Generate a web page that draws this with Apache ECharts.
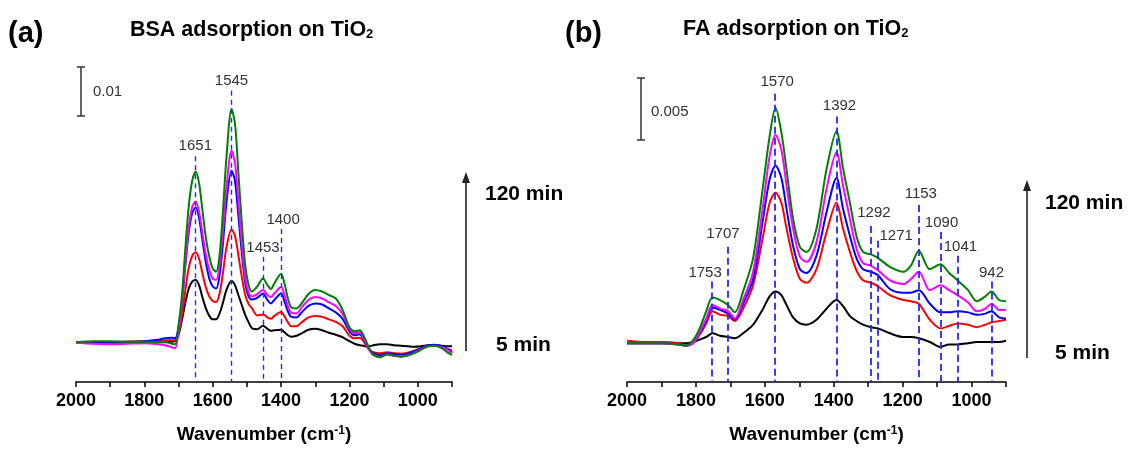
<!DOCTYPE html>
<html>
<head>
<meta charset="utf-8">
<script src="https://cdn.jsdelivr.net/npm/echarts@6.0.0/dist/echarts.min.js"></script>
<style>
  html, body { margin: 0; padding: 0; background: #fff; }
  #chart { width: 1128px; height: 449px; }
</style>
</head>
<body>
<div id="chart"></div>
<script>
// ---- Panel (a): BSA on TiO2, absorbance vs wavenumber ----
const WN_A = [2000, 1950, 1900, 1850, 1800, 1760, 1740, 1720, 1710, 1700, 1690, 1680, 1670, 1660, 1650,
  1640, 1630, 1620, 1610, 1600, 1590, 1580, 1570, 1560, 1545, 1535, 1525, 1515, 1505, 1495, 1485,
  1470, 1453, 1440, 1430, 1420, 1400, 1390, 1380, 1370, 1355, 1340, 1320, 1300, 1280, 1260, 1240,
  1220, 1200, 1185, 1170, 1160, 1150, 1140, 1130, 1110, 1090, 1070, 1050, 1030, 1010, 990, 970,
  950, 930, 910, 900];
const BLACK_A = [0, 0, 0, 0.0001, 0.0001, 0, 0, 0.0001, 0.0003, 0.0015, 0.0045, 0.0080, 0.0108, 0.0122, 0.0125,
  0.0115, 0.0090, 0.0068, 0.0053, 0.0046, 0.0046, 0.0058, 0.0080, 0.0105, 0.0123, 0.0115, 0.0095, 0.0075, 0.0055, 0.0040, 0.0028,
  0.0026, 0.0033, 0.0027, 0.0023, 0.0024, 0.0025, 0.0020, 0.0014, 0.0011, 0.0013, 0.0018, 0.0025, 0.0027, 0.0024, 0.0019, 0.0015,
  0.0010, 0.0002, -0.0003, -0.0006, -0.0007, -0.0008, -0.0008, -0.0006, -0.0004, -0.0004, -0.0006, -0.0007, -0.0008, -0.0009, -0.0008, -0.0006,
  -0.0006, -0.0007, -0.0008, -0.0008];
const RED_A = [0, -0.0001, 0, 0.0001, 0.0002, 0.0003, 0.0004, 0.0004, 0.0004, 0.0020, 0.0055, 0.0105, 0.0150, 0.0174, 0.0181,
  0.0168, 0.0138, 0.0110, 0.0092, 0.0083, 0.0081, 0.0098, 0.0140, 0.0190, 0.0227, 0.0214, 0.0175, 0.0132, 0.0095, 0.0077, 0.0068,
  0.0054, 0.0056, 0.0050, 0.0047, 0.0053, 0.0061, 0.0052, 0.0040, 0.0032, 0.0032, 0.0040, 0.0050, 0.0053, 0.0051, 0.0046, 0.0041,
  0.0032, 0.0013, 0.0008, 0.0009, 0.0003, -0.0008, -0.0016, -0.0020, -0.0022, -0.0020, -0.0022, -0.0023, -0.0021, -0.0017, -0.0012, -0.0007,
  -0.0006, -0.0009, -0.0014, -0.0017];
const BLUE_A = [0, 0, -0.0001, 0, 0.0002, 0.0005, 0.0008, 0.0009, 0.0008, 0.0030, 0.0080, 0.0155, 0.0222, 0.0260, 0.0271,
  0.0250, 0.0205, 0.0160, 0.0128, 0.0112, 0.0108, 0.0135, 0.0200, 0.0280, 0.0345, 0.0325, 0.0255, 0.0180, 0.0120, 0.0092, 0.0086,
  0.0089, 0.0098, 0.0085, 0.0078, 0.0085, 0.0098, 0.0082, 0.0062, 0.0051, 0.0050, 0.0060, 0.0073, 0.0078, 0.0076, 0.0068, 0.0060,
  0.0047, 0.0022, 0.0014, 0.0016, 0.0008, -0.0006, -0.0016, -0.0022, -0.0026, -0.0022, -0.0024, -0.0025, -0.0023, -0.0018, -0.0012, -0.0006,
  -0.0005, -0.0008, -0.0015, -0.0020];
const MAGENTA_A = [-0.0001, -0.0003, -0.0004, -0.0003, -0.0002, -0.0004, -0.0006, -0.0010, -0.0012, 0.0020, 0.0080, 0.0160, 0.0232, 0.0272, 0.0283,
  0.0262, 0.0218, 0.0175, 0.0145, 0.0128, 0.0125, 0.0155, 0.0225, 0.0310, 0.0385, 0.0362, 0.0282, 0.0198, 0.0130, 0.0100, 0.0092,
  0.0097, 0.0105, 0.0095, 0.0091, 0.0098, 0.0111, 0.0095, 0.0072, 0.0059, 0.0058, 0.0070, 0.0085, 0.0091, 0.0088, 0.0080, 0.0073,
  0.0057, 0.0027, 0.0018, 0.0020, 0.0011, -0.0005, -0.0018, -0.0026, -0.0030, -0.0025, -0.0027, -0.0029, -0.0027, -0.0021, -0.0014, -0.0008,
  -0.0007, -0.0010, -0.0017, -0.0022];
const GREEN_A = [0, 0.0002, 0.0002, 0.0001, 0.0001, 0, 0.0001, -0.0003, -0.0004, 0.0035, 0.0095, 0.0190, 0.0275, 0.0325, 0.0343,
  0.0320, 0.0265, 0.0210, 0.0172, 0.0148, 0.0142, 0.0175, 0.0265, 0.0370, 0.0469, 0.0441, 0.0341, 0.0241, 0.0155, 0.0115, 0.0102,
  0.0112, 0.0128, 0.0115, 0.0107, 0.0118, 0.0138, 0.0118, 0.0088, 0.0070, 0.0068, 0.0078, 0.0097, 0.0105, 0.0102, 0.0095, 0.0088,
  0.0065, 0.0030, 0.0022, 0.0024, 0.0015, 0.0000, -0.0015, -0.0025, -0.0030, -0.0024, -0.0027, -0.0029, -0.0027, -0.0022, -0.0015, -0.0008,
  -0.0007, -0.0012, -0.0022, -0.0026];
const PEAKS_A = [1651, 1545, 1453, 1400];

// ---- Panel (b): FA on TiO2 ----
const WN_B = [2000, 1950, 1900, 1850, 1830, 1809, 1789, 1770, 1752, 1730, 1707, 1687, 1663, 1634, 1605,
  1586, 1569, 1552, 1537, 1518, 1498, 1479, 1450, 1421, 1392, 1373, 1353, 1334, 1315, 1292, 1271,
  1237, 1198, 1176, 1153, 1121, 1090, 1065, 1041, 1010, 985, 960, 942, 920, 900];
const BLACK_B = [0, 0, 0, 0, 0, 0.0001, 0.0003, 0.0005, 0.0008, 0.0006, 0.0005, 0.0004, 0.0008, 0.0015, 0.0028,
  0.0038, 0.0042, 0.0039, 0.0031, 0.0021, 0.0016, 0.0015, 0.0019, 0.0028, 0.0035, 0.0030, 0.0022, 0.0018, 0.0015, 0.0013, 0.0012,
  0.0008, 0.0005, 0.0005, 0.0004, 0.0001, -0.0003, -0.0001, -0.0001, 0.0000, 0.0001, 0.0001, 0.0001, 0.0001, 0.0002];
const RED_B = [0.0002, 0.0001, 0.0001, 0, -0.0002, 0.0000, 0.0007, 0.0016, 0.0026, 0.0023, 0.0022, 0.0018, 0.0028, 0.0047, 0.0087,
  0.0114, 0.0122, 0.0114, 0.0093, 0.0069, 0.0052, 0.0049, 0.0060, 0.0090, 0.0114, 0.0093, 0.0074, 0.0059, 0.0051, 0.0049, 0.0046,
  0.0039, 0.0035, 0.0034, 0.0032, 0.0019, 0.0012, 0.0014, 0.0016, 0.0015, 0.0013, 0.0015, 0.0017, 0.0018, 0.0019];
const BLUE_B = [0, 0, 0, -0.0001, -0.0002, 0.0000, 0.0008, 0.0018, 0.0029, 0.0027, 0.0024, 0.0019, 0.0032, 0.0052, 0.0101,
  0.0133, 0.0144, 0.0134, 0.0109, 0.0079, 0.0060, 0.0057, 0.0071, 0.0106, 0.0134, 0.0109, 0.0087, 0.0069, 0.0060, 0.0058, 0.0055,
  0.0044, 0.0041, 0.0041, 0.0043, 0.0032, 0.0025, 0.0025, 0.0026, 0.0025, 0.0023, 0.0024, 0.0026, 0.0021, 0.0020];
const MAGENTA_B = [0, 0, 0, -0.0001, -0.0002, 0.0000, 0.0009, 0.0020, 0.0031, 0.0028, 0.0026, 0.0020, 0.0035, 0.0058, 0.0112,
  0.0152, 0.0169, 0.0157, 0.0128, 0.0093, 0.0070, 0.0066, 0.0082, 0.0125, 0.0155, 0.0128, 0.0101, 0.0077, 0.0065, 0.0063, 0.0059,
  0.0051, 0.0048, 0.0052, 0.0058, 0.0043, 0.0047, 0.0043, 0.0039, 0.0033, 0.0026, 0.0028, 0.0032, 0.0027, 0.0027];
const GREEN_B = [0, 0, 0, -0.0001, -0.0002, 0.0002, 0.0012, 0.0026, 0.0037, 0.0035, 0.0031, 0.0025, 0.0042, 0.0069, 0.0128,
  0.0168, 0.0191, 0.0171, 0.0141, 0.0101, 0.0078, 0.0074, 0.0093, 0.0141, 0.0172, 0.0142, 0.0114, 0.0087, 0.0074, 0.0072, 0.0069,
  0.0062, 0.0058, 0.0063, 0.0075, 0.0060, 0.0064, 0.0057, 0.0051, 0.0043, 0.0034, 0.0038, 0.0042, 0.0035, 0.0034];
const PEAKS_B = [1753, 1707, 1570, 1392, 1292, 1271, 1153, 1090, 1041, 942];

// Axis tick values (labels every 200 cm-1, ticks every 100)
const X_MIN = 900, X_MAX = 2000, X_STEP = 100, X_LABEL_STEP = 200;

// ---- layout ----
const FONT = '"Liberation Sans", Arial, Helvetica, sans-serif';
const PLOT_TOP = 40, PLOT_BOTTOM = 384, PLOT_H = PLOT_BOTTOM - PLOT_TOP;
const RANGE_A = { min: -0.008, max: 0.0608 };
const RANGE_B = { min: -0.00315, max: 0.0246 };
// vertical placement (px) of each peak's dashed guide top and its label; dx nudges the label sideways
const GUIDE_A = [
  { top: 157, label: 146, dx: 0 }, { top: 91, label: 81, dx: 0 },
  { top: 258, label: 249, dx: 0 }, { top: 230, label: 221, dx: 2 }
];
const GUIDE_B = [
  { top: 283, label: 274, dx: -7 }, { top: 248, label: 235, dx: -5 },
  { top: 94, label: 82, dx: 2 }, { top: 117, label: 106, dx: 3 },
  { top: 227, label: 214, dx: 3 }, { top: 242, label: 237, dx: 18 },
  { top: 206, label: 195, dx: 2 }, { top: 233, label: 224, dx: 1 },
  { top: 257, label: 248, dx: 3 }, { top: 283, label: 274, dx: 0 }
];

function valAt(range, py) {
  return range.min + (PLOT_BOTTOM - py) / PLOT_H * (range.max - range.min);
}

function curve(wn, vals, color, axis) {
  return {
    type: 'line', xAxisIndex: axis, yAxisIndex: axis,
    data: wn.map((w, i) => [w, vals[i]]),
    showSymbol: false, symbol: 'none', smooth: 0.3,
    lineStyle: { color: color, width: 2 }, itemStyle: { color: color },
    silent: true, animation: false, z: 3
  };
}

function peakGuides(axis, peaks, guide, range, width, dash) {
  return {
    type: 'line', xAxisIndex: axis, yAxisIndex: axis, data: [],
    silent: true, animation: false, z: 5,
    markLine: {
      symbol: ['none', 'none'], silent: true, animation: false,
      label: { show: false },
      lineStyle: { color: '#2626ff', width: width, type: dash },
      emphasis: { disabled: true },
      data: peaks.map((p, i) => [
        { coord: [p, valAt(range, guide[i].top)] },
        { coord: [p, range.min] }
      ])
    },
    markPoint: {
      symbol: 'circle', symbolSize: 1, silent: true, animation: false,
      itemStyle: { color: 'rgba(0,0,0,0)' },
      label: {
        show: true, position: 'inside', color: '#333', fontSize: 15, fontFamily: FONT,
        formatter: (p) => String(p.value)
      },
      data: peaks.map((p, i) => ({
        coord: [p, valAt(range, guide[i].label)], value: p,
        label: { offset: [guide[i].dx, 0] }
      }))
    }
  };
}

function xAxis(gridIndex) {
  return {
    gridIndex: gridIndex, type: 'value', inverse: true,
    min: X_MIN, max: X_MAX, interval: X_STEP,
    axisLine: { show: true, onZero: false, lineStyle: { color: '#000', width: 1.5 } },
    axisTick: { show: true, inside: false, length: 5, lineStyle: { color: '#000', width: 1.5 } },
    axisLabel: {
      show: true, margin: 10, fontSize: 18, fontWeight: 'bold', color: '#000', fontFamily: FONT,
      formatter: (v) => (v % X_LABEL_STEP === 0 ? String(v) : '')
    },
    splitLine: { show: false },
    name: '{m|Wavenumber (cm}{s|-1}{m|)}',
    nameLocation: 'middle', nameGap: 43,
    nameTextStyle: {
      fontFamily: FONT, fontSize: 19, fontWeight: 'bold', color: '#000',
      rich: {
        m: { fontFamily: FONT, fontSize: 19, fontWeight: 'bold', color: '#000' },
        s: { fontFamily: FONT, fontSize: 12, fontWeight: 'bold', color: '#000', verticalAlign: 'top' }
      }
    }
  };
}

function yAxis(gridIndex, range) {
  return { gridIndex: gridIndex, type: 'value', min: range.min, max: range.max, show: false, splitLine: { show: false } };
}

function txt(x, y, text, font, align, extra) {
  return Object.assign({
    type: 'text', x: x, y: y, silent: true,
    style: { text: text, font: font, fill: '#000', textAlign: align || 'left', textVerticalAlign: 'middle', align: align || 'left', verticalAlign: 'middle' }
  }, extra || {});
}

function titleText(x, y, main) {
  return {
    type: 'text', x: x, y: y, silent: true,
    style: {
      text: '{t|' + main + '}{s|2}', textAlign: 'left', textVerticalAlign: 'middle', align: 'left', verticalAlign: 'middle',
      rich: {
        t: { fontFamily: FONT, fontSize: 21.5, fontWeight: 'bold', fill: '#000', color: '#000' },
        s: { fontFamily: FONT, fontSize: 13, fontWeight: 'bold', fill: '#000', color: '#000', verticalAlign: 'bottom' }
      }
    }
  };
}

function scaleBar(x, y1, y2) {
  const st = { stroke: '#333', lineWidth: 1.5 };
  return [
    { type: 'line', silent: true, shape: { x1: x, y1: y1, x2: x, y2: y2 }, style: st },
    { type: 'line', silent: true, shape: { x1: x - 4, y1: y1, x2: x + 4, y2: y1 }, style: st },
    { type: 'line', silent: true, shape: { x1: x - 4, y1: y2, x2: x + 4, y2: y2 }, style: st }
  ];
}

function upArrow(x, yBottom, yTip) {
  return [
    { type: 'line', silent: true, shape: { x1: x, y1: yBottom, x2: x, y2: yTip + 8 }, style: { stroke: '#222', lineWidth: 1.6 } },
    { type: 'polygon', silent: true, shape: { points: [[x, yTip], [x - 4, yTip + 11], [x + 4, yTip + 11]] }, style: { fill: '#222' } }
  ];
}

const SMALL = '15px ' + FONT;
const BIG = 'bold 21px ' + FONT;
const LETTER = 'bold 29px ' + FONT;

const option = {
  backgroundColor: '#fff',
  animation: false,
  grid: [
    { left: 76, right: 676, top: PLOT_TOP, bottom: 449 - PLOT_BOTTOM },
    { left: 627, right: 122, top: PLOT_TOP, bottom: 449 - PLOT_BOTTOM }
  ],
  xAxis: [xAxis(0), xAxis(1)],
  yAxis: [yAxis(0, RANGE_A), yAxis(1, RANGE_B)],
  series: [
    curve(WN_A, BLACK_A, '#000000', 0),
    curve(WN_A, RED_A, '#ff0000', 0),
    curve(WN_A, BLUE_A, '#0000ff', 0),
    curve(WN_A, MAGENTA_A, '#ff00ff', 0),
    curve(WN_A, GREEN_A, '#008000', 0),
    peakGuides(0, PEAKS_A, GUIDE_A, RANGE_A, 1.4, [5, 4]),
    curve(WN_B, BLACK_B, '#000000', 1),
    curve(WN_B, RED_B, '#ff0000', 1),
    curve(WN_B, BLUE_B, '#0000ff', 1),
    curve(WN_B, MAGENTA_B, '#ff00ff', 1),
    curve(WN_B, GREEN_B, '#008000', 1),
    peakGuides(1, PEAKS_B, GUIDE_B, RANGE_B, 1.8, [7, 4])
  ],
  graphic: [
    txt(8, 34, '(a)', LETTER),
    titleText(130, 30, 'BSA adsorption on TiO'),
    ...scaleBar(81, 67, 116),
    txt(93, 92, '0.01', SMALL, 'left', { style: { text: '0.01', font: SMALL, fill: '#333', textAlign: 'left', textVerticalAlign: 'middle', align: 'left', verticalAlign: 'middle' } }),
    ...upArrow(466, 351, 172),
    txt(485, 194, '120 min', BIG),
    txt(496, 345, '5 min', BIG),

    txt(565, 34, '(b)', LETTER),
    titleText(683, 29, 'FA adsorption on TiO'),
    ...scaleBar(641, 78, 140),
    txt(651, 112, '0.005', SMALL, 'left', { style: { text: '0.005', font: SMALL, fill: '#333', textAlign: 'left', textVerticalAlign: 'middle', align: 'left', verticalAlign: 'middle' } }),
    ...upArrow(1027, 358, 180),
    txt(1045, 203, '120 min', BIG),
    txt(1055, 353, '5 min', BIG)
  ]
};

const chart = echarts.init(document.getElementById('chart'), null, { renderer: 'canvas' });
chart.setOption(option);
</script>
</body>
</html>
